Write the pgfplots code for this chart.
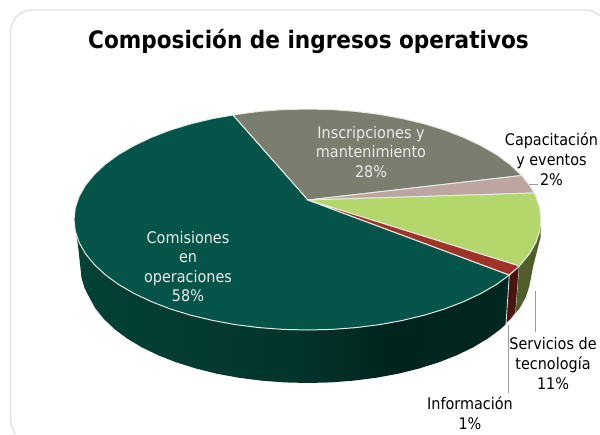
\documentclass[border=0pt]{standalone}
\usepackage{fontspec}
\setmainfont{DejaVu Sans}[FakeStretch=0.9]
\usepackage{pgfplots}
\pgfplotsset{compat=1.18}
\definecolor{cTeal}{HTML}{05544A}
\definecolor{cGray}{HTML}{7B7D6E}
\definecolor{cPink}{HTML}{BDA5A0}
\definecolor{cGreen}{HTML}{B4D76B}
\definecolor{cRed}{HTML}{A0322A}
\definecolor{cOlive}{HTML}{4F5F2B}
\definecolor{cDarkRed}{HTML}{4A1410}
\definecolor{cEdge}{HTML}{E4EAE2}
\definecolor{tA}{HTML}{064E42}
\definecolor{tB}{HTML}{02352C}
\definecolor{tC}{HTML}{00251E}
\definecolor{tD}{HTML}{032A23}
\pgfdeclarehorizontalshading{tealside}{100bp}{color(0bp)=(tA);color(50bp)=(tB);color(61bp)=(tC);color(100bp)=(tD)}
\begin{document}
\begin{tikzpicture}[x=1pt,y=1pt]
\useasboundingbox (0,0) rectangle (600,434);
\begin{axis}[at={(0,0)},anchor=south west,scale only axis,width=600pt,height=434pt,
  xmin=0,xmax=600,ymin=0,ymax=434,y dir=reverse,hide axis,clip=true,
  every axis plot/.append style={forget plot}]
% card outline
\addplot[draw=black!12,line width=1.4pt] coordinates {(15,434)(11.5,426)(10.5,418)(10.5,32)(11.5,25)(15,18)(21,13)(28,10.5)(35,10)(585,10)(592,11)(600,15.5)};
% side: teal
\addplot[draw=none,shading=tealside] coordinates {(74,219.5)(75.3,231.1)(79.1,242.5)(85.4,253.6)(94.2,264.4)(105.3,274.8)(118.6,284.5)(134,293.4)(151.3,301.6)(170.2,308.9)(190.7,315.2)(212.5,320.4)(235.3,324.6)(259,327.6)(283.1,329.4)(307.5,330)(331.9,329.4)(356,327.6)(379.7,324.6)(402.5,320.4)(424.3,315.2)(444.8,308.9)(463.7,301.6)(481,293.4)(496.4,284.5)(509.3,275)(506,324)(500.6,329)(487.9,338.5)(473.2,347.3)(456.7,355.3)(438.6,362.4)(419,368.5)(398.2,373.7)(376.4,377.7)(353.9,380.6)(330.8,382.4)(307.5,383)(284.2,382.4)(261.1,380.6)(238.6,377.7)(216.8,373.7)(196,368.5)(176.4,362.4)(158.3,355.3)(141.8,347.3)(127.1,338.5)(114.4,329)(103.8,318.9)(95.4,308.4)(89.4,297.5)(84.5,288)(81.5,278)(78.5,250)(76,232)} --cycle;
% side: dark red
\addplot[fill=cDarkRed,draw=cEdge,line width=0.8pt] coordinates {(509.3,275)(519.3,266)(515.7,313)(511.2,318.9)(506,324)} --cycle;
% side: olive
\addplot[fill=cOlive,draw=none] coordinates {(519.3,266)(520.8,264.4)(529.6,253.6)(535.9,242.5)(539.7,231.1)(541,219.5)(540.6,237)(539,243)(536,255)(533,267)(529.3,286.3)(525.6,297.5)(519.6,308.4)(515.7,313)} --cycle;
% top slices
\addplot[fill=cTeal,draw=cEdge,line width=1pt] coordinates {(308,200)(509.3,275)(496.4,284.5)(481,293.4)(463.7,301.6)(444.8,308.9)(424.3,315.2)(402.5,320.4)(379.7,324.6)(356,327.6)(331.9,329.4)(307.5,330)(283.1,329.4)(259,327.6)(235.3,324.6)(212.5,320.4)(190.7,315.2)(170.2,308.9)(151.3,301.6)(134,293.4)(118.6,284.5)(105.3,274.8)(94.2,264.4)(85.4,253.6)(79.1,242.5)(75.3,231.1)(74,219.5)(75.3,207.9)(79.1,196.5)(85.4,185.4)(94.2,174.6)(105.3,164.2)(118.6,154.5)(134,145.6)(151.3,137.4)(170.2,130.1)(190.7,123.8)(212.5,118.6)(233,115)} --cycle;
\addplot[fill=cGray,draw=cEdge,line width=1pt] coordinates {(308,200)(233,115)(259,111.4)(283.1,109.6)(307.5,109)(331.9,109.6)(356,111.4)(379.7,114.4)(402.5,118.6)(424.3,123.8)(444.8,130.1)(463.7,137.4)(481,145.6)(496.4,154.5)(509.7,164.2)(521.7,175.5)} --cycle;
\addplot[fill=cPink,draw=cEdge,line width=1pt] coordinates {(308,200)(521.7,175.5)(529.6,185.4)(534.3,193)} --cycle;
\addplot[fill=cGreen,draw=cEdge,line width=1pt] coordinates {(308,200)(534.3,193)(535.9,196.5)(539.7,207.9)(541,219.5)(539.7,231.1)(535.9,242.5)(529.6,253.6)(520.8,264.4)(519.3,266)} --cycle;
\addplot[fill=cRed,draw=cEdge,line width=1pt] coordinates {(308,200)(519.3,266)(509.3,275)} --cycle;
% leader lines
\addplot[draw=black!40,line width=0.8pt] coordinates {(529,184)(538,184)};
\addplot[draw=black!40,line width=0.8pt] coordinates {(535,291)(535,332)};
\addplot[draw=black!40,line width=0.8pt] coordinates {(508.3,325)(508.3,393)};
% text
\node[font=\bfseries\fontsize{24}{30}\selectfont,anchor=center] at (axis cs:308.5,41) {Composición de ingresos operativos};
\node[font=\fontsize{16}{19.5}\selectfont,align=center,text=white!92!black] at (axis cs:371,152) {Inscripciones y\\mantenimiento\\28\%};
\node[font=\fontsize{16}{19.5}\selectfont,align=center,text=white!92!black] at (axis cs:188,266.5) {Comisiones\\en\\operaciones\\58\%};
\node[font=\fontsize{16}{20}\selectfont,align=center,text=black] at (axis cs:551.5,159) {Capacitación\\y eventos\\2\%};
\node[font=\fontsize{16}{20}\selectfont,align=center,text=black] at (axis cs:553,364) {Servicios de\\tecnología\\11\%};
\node[font=\fontsize{16}{20}\selectfont,align=center,text=black] at (axis cs:470,413.5) {Información\\1\%};
\end{axis}
\end{tikzpicture}
\end{document}
